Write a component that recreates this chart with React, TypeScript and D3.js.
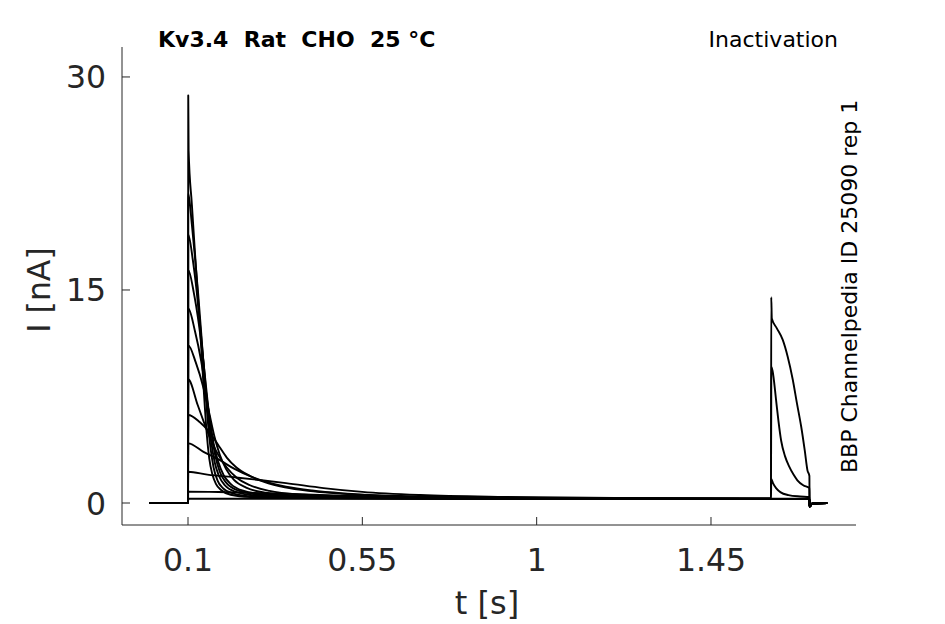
import * as d3 from "d3";

type Pt = [number, number];

// axis ticks
const xTicks = [0.1, 0.55, 1, 1.45];
const xTickLabels = ["0.1", "0.55", "1", "1.45"];
const yTicks = [0, 15, 30];
const yTickLabels = ["0", "15", "30"];

// shared pieces of every sweep: holding level before the prepulse, tail after the test pulse
const preBaseline: Pt[] = [[0, 0]];
const offTail: Pt[] = [[1.7045, -0.25], [1.712, -0.04], [1.75, 0]];

// sweeps, [t (s), I (nA)]
const sweep1: Pt[] = [
  [0.1, 0], [0.1006, 28.7], [0.1016, 24.8], [0.11, 21.0], [0.118, 17.6], [0.126, 14.4],
  [0.134, 11.0], [0.141, 7.8], [0.148, 5.0], [0.155, 3.1], [0.163, 2.0], [0.172, 1.35],
  [0.186, 0.9], [0.21, 0.58], [0.26, 0.42], [0.4, 0.35], [0.7, 0.3], [1.0, 0.28],
  [1.605, 0.27], [1.704, 0.27],
];
const sweep2: Pt[] = [
  [0.1, 0], [0.1006, 21.8], [0.11, 19.6], [0.118, 17.3], [0.126, 14.8], [0.134, 12.0],
  [0.142, 9.0], [0.15, 6.1], [0.158, 3.9], [0.166, 2.5], [0.176, 1.6], [0.19, 1.05],
  [0.215, 0.68], [0.27, 0.46], [0.45, 0.36], [1.0, 0.3], [1.605, 0.28], [1.704, 0.28],
];
const sweep3: Pt[] = [
  [0.1, 0], [0.1006, 18.9], [0.112, 17.2], [0.122, 15.0], [0.132, 12.3], [0.142, 9.3],
  [0.151, 6.5], [0.16, 4.3], [0.169, 2.85], [0.18, 1.9], [0.195, 1.25], [0.22, 0.82],
  [0.28, 0.52], [0.5, 0.37], [1.0, 0.3], [1.605, 0.28], [1.704, 0.28],
];
const sweep4: Pt[] = [
  [0.1, 0], [0.1006, 16.4], [0.115, 14.8], [0.128, 12.6], [0.14, 9.9], [0.15, 7.3],
  [0.16, 5.0], [0.17, 3.4], [0.182, 2.2], [0.198, 1.45], [0.225, 0.92], [0.29, 0.57],
  [0.5, 0.39], [1.0, 0.31], [1.605, 0.28], [1.704, 0.28],
];
const sweep5: Pt[] = [
  [0.1, 0], [0.1006, 13.7], [0.118, 12.1], [0.134, 10.0], [0.146, 7.9], [0.156, 5.9],
  [0.166, 4.2], [0.178, 2.9], [0.192, 1.95], [0.21, 1.35], [0.24, 0.88], [0.3, 0.6],
  [0.5, 0.41], [1.0, 0.31], [1.605, 0.28], [1.704, 0.28],
];
const sweep6: Pt[] = [
  [0.1, 0], [0.1006, 11.1], [0.12, 9.9], [0.14, 8.1], [0.155, 6.3], [0.168, 4.7],
  [0.182, 3.4], [0.198, 2.4], [0.218, 1.65], [0.25, 1.08], [0.3, 0.72], [0.4, 0.5],
  [0.6, 0.38], [1.0, 0.31], [1.605, 0.28], [1.704, 0.28],
];
const sweep7: Pt[] = [
  [0.1, 0], [0.1006, 8.7], [0.125, 6.9], [0.145, 5.4], [0.163, 4.2], [0.18, 3.3],
  [0.2, 2.5], [0.225, 1.8], [0.26, 1.25], [0.31, 0.85], [0.4, 0.58], [0.55, 0.43],
  [0.8, 0.35], [1.2, 0.3], [1.605, 0.28], [1.704, 0.28],
];
const sweep8: Pt[] = [
  [0.1, 0], [0.1006, 6.2], [0.13, 5.7], [0.155, 5.0], [0.18, 4.0], [0.2, 3.2],
  [0.225, 2.5], [0.26, 1.9], [0.3, 1.45], [0.35, 1.1], [0.41, 0.85], [0.5, 0.65],
  [0.6, 0.5], [0.8, 0.38], [1.0, 0.32], [1.605, 0.28], [1.704, 0.28],
];
const sweep9: Pt[] = [
  [0.1, 0], [0.1006, 4.2], [0.14, 3.6], [0.18, 3.05], [0.22, 2.4], [0.268, 1.8],
  [0.3, 1.5], [0.353, 1.15], [0.42, 0.88], [0.5, 0.68], [0.65, 0.5], [0.85, 0.39],
  [1.1, 0.33], [1.605, 0.3], [1.704, 0.3],
];
const sweep10: Pt[] = [
  [0.1, 0], [0.1006, 2.2], [0.15, 2.0], [0.224, 1.8], [0.29, 1.6], [0.353, 1.4],
  [0.45, 1.05], [0.55, 0.78], [0.7, 0.56], [0.9, 0.43], [1.2, 0.36], [1.605, 0.33],
  [1.6055, 1.7], [1.61, 1.4], [1.618, 1.05], [1.63, 0.75], [1.65, 0.56], [1.68, 0.46],
  [1.704, 0.42],
];
const sweep11: Pt[] = [
  [0.1, 0], [0.1006, 0.8], [0.2, 0.76], [0.35, 0.66], [0.5, 0.52], [0.7, 0.42],
  [1.0, 0.35], [1.3, 0.32], [1.605, 0.31],
  [1.6055, 9.6], [1.609, 9.3], [1.618, 7.25], [1.624, 5.8], [1.631, 4.4], [1.641, 3.3],
  [1.652, 2.56], [1.663, 2.0], [1.673, 1.6], [1.688, 1.25], [1.704, 1.05],
];
const sweep12: Pt[] = [
  [0.1, 0], [0.1006, 0.3], [0.4, 0.3], [1.0, 0.28], [1.605, 0.28],
  [1.6055, 14.5], [1.607, 13.0], [1.62, 12.3], [1.635, 11.5], [1.648, 10.3], [1.661, 8.7],
  [1.672, 7.0], [1.683, 5.35], [1.692, 3.7], [1.699, 2.3], [1.704, 1.9],
];

const sweeps = [
  sweep1, sweep2, sweep3, sweep4, sweep5, sweep6,
  sweep7, sweep8, sweep9, sweep10, sweep11, sweep12,
].map((s) => [...preBaseline, ...s, ...offTail]);

const W = 945;
const H = 624;
const left = 122;
const right = 856;
const top = 47;
const bottom = 525;
const ink = "#262626";
const font = "DejaVu Sans";

export default function App() {
  const x = d3.scaleLinear().domain([-0.0704, 1.8243]).range([left, right]);
  const y = d3.scaleLinear().domain([-1.549, 32.11]).range([bottom, top]);

  const line = d3
    .line<Pt>()
    .x((d) => x(d[0]))
    .y((d) => y(d[1]))
    .curve(d3.curveMonotoneX);

  return (
    <svg
      width={W}
      height={H}
      style={{ position: "absolute", left: 0, top: 0, background: "#fff" }}
      fontFamily={font}
    >
      {/* traces */}
      <g fill="none" stroke="#000" strokeWidth={1.9} strokeLinejoin="round">
        {sweeps.map((s, i) => (
          <path key={i} d={line(s) ?? ""} />
        ))}
      </g>

      {/* axes */}
      <g stroke={ink} strokeWidth={1} fill="none">
        <line x1={left} x2={left} y1={top} y2={bottom} />
        <line x1={left} x2={right} y1={bottom} y2={bottom} />
        {yTicks.map((t) => (
          <line key={t} x1={left} x2={left + 8} y1={y(t)} y2={y(t)} />
        ))}
        {xTicks.map((t) => (
          <line key={t} x1={x(t)} x2={x(t)} y1={bottom} y2={bottom - 8} />
        ))}
      </g>

      <g fill={ink} fontSize={31.5}>
        {yTicks.map((t, i) => (
          <text key={t} x={106} y={y(t) + 11.5} textAnchor="end">
            {yTickLabels[i]}
          </text>
        ))}
        {xTicks.map((t, i) => (
          <text key={t} x={x(t)} y={571} textAnchor="middle">
            {xTickLabels[i]}
          </text>
        ))}
      </g>

      <text x={487} y={614} textAnchor="middle" fontSize={32} fill={ink}>
        t [s]
      </text>
      <text
        transform="translate(50,290) rotate(-90)"
        textAnchor="middle"
        fontSize={31.5}
        fill={ink}
      >
        I [nA]
      </text>

      <text x={158} y={47} fontSize={22} fontWeight="bold" fill="#000">
        Kv3.4{"\u00a0\u00a0"}Rat{"\u00a0\u00a0"}CHO{"\u00a0\u00a0"}25 °C
      </text>
      <text x={838} y={47} fontSize={22} textAnchor="end" fill="#000">
        Inactivation
      </text>
      <text
        transform="translate(857,473) rotate(-90)"
        fontSize={22}
        fill="#000"
      >
        BBP Channelpedia ID 25090 rep 1
      </text>
    </svg>
  );
}
